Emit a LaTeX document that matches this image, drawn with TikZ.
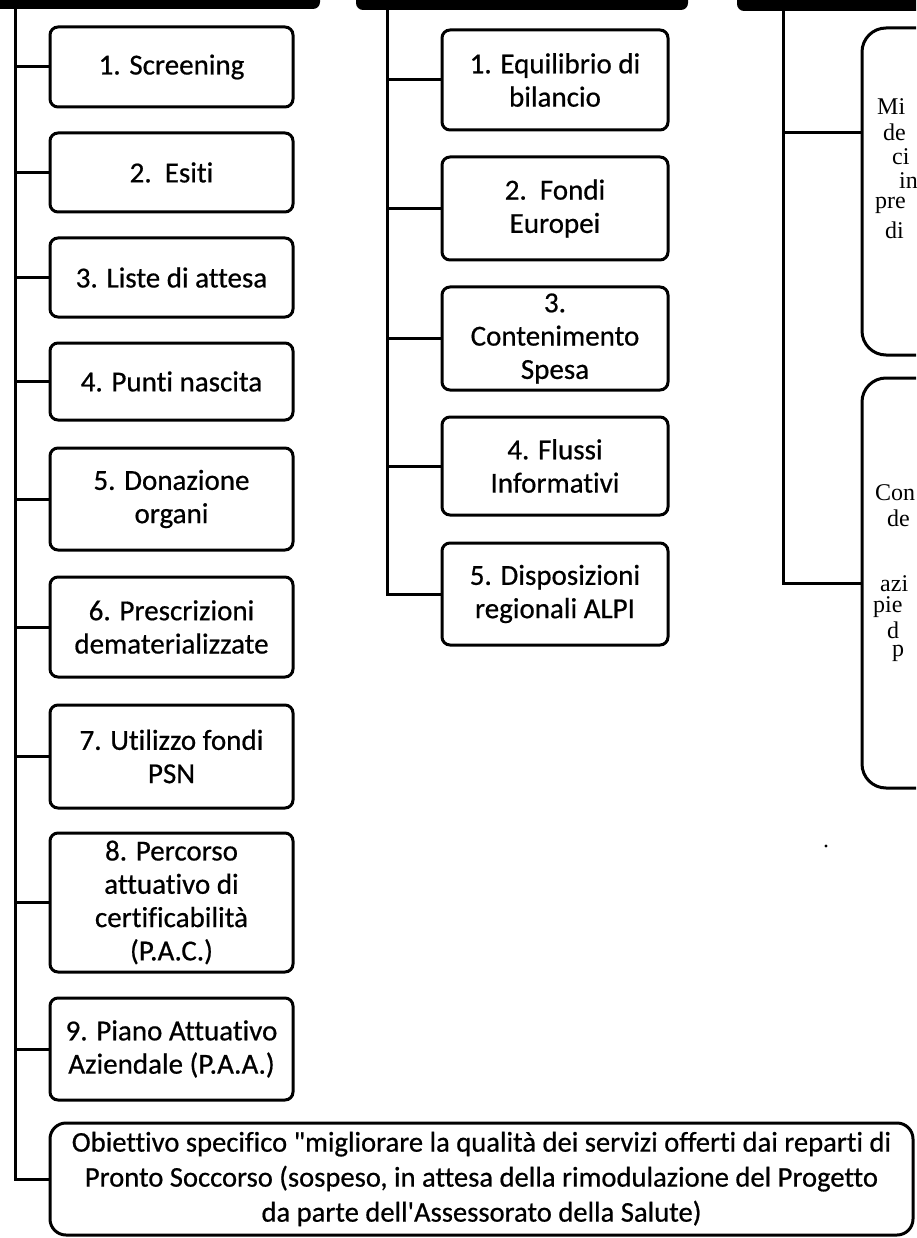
\documentclass[tikz,border=0pt]{standalone}
\usepackage{fontspec}
\newfontfamily\boxfont{Carlito}[Ligatures=NoCommon, FakeBold=0.6]
\newfontfamily\cutfont{Liberation Serif}
\begin{document}
\begin{tikzpicture}[x=1pt,y=-1pt,
  goal/.style={draw, line width=3pt, rounded corners=8pt, align=center,
    inner sep=0pt, font=\boxfont\fontsize{29}{33.3}\selectfont},
  wide/.style={goal, rounded corners=16pt, font=\boxfont\fontsize{28.6}{35}\selectfont},
  tall/.style={draw, line width=3pt, rounded corners=24pt, inner sep=0pt},
  link/.style={line width=3pt},
  head/.style={fill=black, rounded corners=7pt},
  cut/.style={anchor=west, inner sep=0pt, font=\cutfont\fontsize{24}{24}\selectfont}]
\clip (0,0) rectangle (916,1238);

% header bars of the three groups (only their lower edges show)
\fill[head] (-20,-30) rectangle (320,9);
\fill[head] (356,-30) rectangle (688,10);
\fill[head] (737,-30) rectangle (940,11);

% spine tops
\coordinate (ls) at (15,8);
\coordinate (ms) at (387,9);
\coordinate (rs) at (783,10);

% left group
\node[goal, minimum width=243pt, minimum height=80pt]  (l1) at (171.5,67)    {1. Screening};
\node[goal, minimum width=243pt, minimum height=79pt]  (l2) at (171.5,172.5) {2.\ \ Esiti};
\node[goal, minimum width=243pt, minimum height=79pt]  (l3) at (171.5,277.5) {3. Liste di attesa};
\node[goal, minimum width=243pt, minimum height=77pt]  (l4) at (171.5,381.5) {4. Punti nascita};
\node[goal, minimum width=243pt, minimum height=102pt] (l5) at (171.5,499)   {5. Donazione\\organi};
\node[goal, minimum width=243pt, minimum height=100pt] (l6) at (171.5,627)   {6. Prescrizioni\\dematerializzate};
\node[goal, minimum width=243pt, minimum height=103pt] (l7) at (171.5,756.5) {7. Utilizzo fondi\\PSN};
\node[goal, minimum width=243pt, minimum height=139pt] (l8) at (171.5,902.5) {8. Percorso\\attuativo di\\certificabilità\\(P.A.C.)};
\node[goal, minimum width=243pt, minimum height=102pt] (l9) at (171.5,1049)  {9. Piano Attuativo\\Aziendale (P.A.A.)};
\node[wide, minimum width=863pt, minimum height=112pt] (lb) at (481.5,1179)
  {Obiettivo specifico "migliorare la qualità dei servizi offerti dai reparti di\\
   Pronto Soccorso (sospeso, in attesa della rimodulazione del Progetto\\
   da parte dell'Assessorato della Salute)};

\draw[link] (ls) -- (ls |- lb.west) -- (lb.west);
\foreach \n in {l1,l2,l3,l4,l5,l6,l7,l8,l9}
  \draw[link] (ls |- \n.west) -- (\n.west);

% middle group
\node[goal, minimum width=226pt, minimum height=100pt] (m1) at (555,80)    {1. Equilibrio di\\bilancio};
\node[goal, minimum width=226pt, minimum height=103pt] (m2) at (555,208.5) {2.\ \ Fondi\\Europei};
\node[goal, minimum width=226pt, minimum height=103pt] (m3) at (555,338.5) {3.\\Contenimento\\Spesa};
\node[goal, minimum width=226pt, minimum height=98pt]  (m4) at (555,466)   {4. Flussi\\Informativi};
\node[goal, minimum width=226pt, minimum height=102pt] (m5) at (555,594)   {5. Disposizioni\\regionali ALPI};

\draw[link] (ms) -- (ms |- m5.west) -- (m5.west);
\foreach \n in {m1,m2,m3,m4}
  \draw[link] (ms |- \n.west) -- (\n.west);

% right group (boxes run past the right edge)
\node[tall, minimum width=160pt, minimum height=327pt] (r1) at (942,191.5) {};
\node[tall, minimum width=160pt, minimum height=410pt] (r2) at (942,583)   {};
\coordinate (r1in) at (r1.west |- 0,133);

\draw[link] (rs) -- (rs |- r2.west) -- (r2.west);
\draw[link] (rs |- r1in) -- (r1in);

\node[cut] (t1) at (877,107) {Mi};
\node[cut] (t2) at (883,132) {de};
\node[cut] (t3) at (892,157) {ci};
\node[cut] (t4) at (899,181) {in};
\node[cut] (t5) at (875,205) {pre};
\node[cut] (t6) at (885,230) {di};

\node[cut] (u1) at (875,493) {Con};
\node[cut] (u2) at (887,518) {de};
\node[cut] (u3) at (880,584) {azi};
\node[cut] (u4) at (873,607) {pie};
\node[cut] (u5) at (887,630) {d};
\node[cut] (u6) at (892,653) {p};

% stray speck
\fill (826,846) circle (1.6pt);
\end{tikzpicture}
\end{document}
